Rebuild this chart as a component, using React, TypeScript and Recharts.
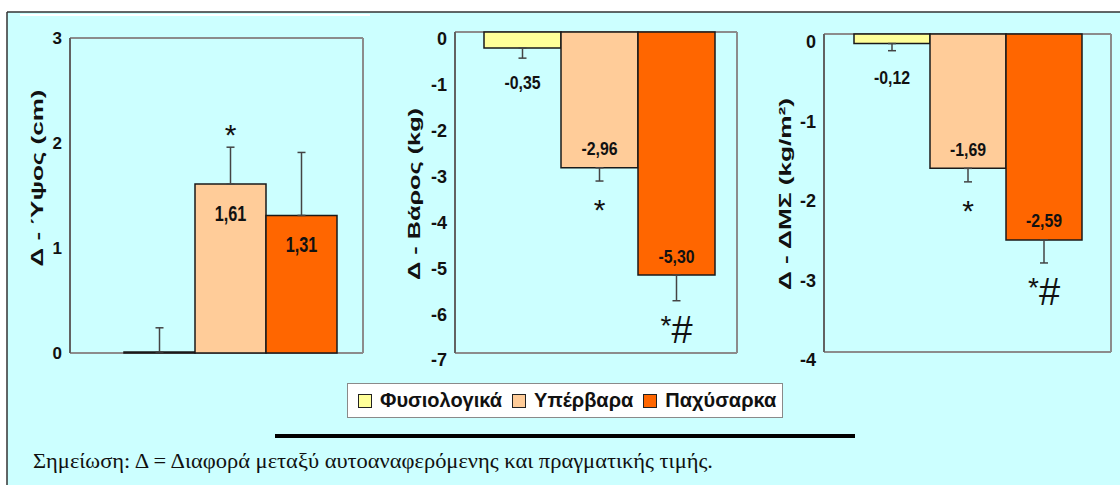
import React from 'react';
import { BarChart, Bar, XAxis, YAxis, CartesianGrid, ErrorBar, LabelList } from 'recharts';

const groups = ['Φυσιολογικά', 'Υπέρβαρα', 'Παχύσαρκα'];
const groupColors = ['#FFFF99', '#FFCC99', '#FF6600'];

const heightValues = [0.01, 1.61, 1.31];
const heightErrors = [0.23, 0.35, 0.6];
const heightMarks = ['', '*', ''];
const heightTicks = [0, 1, 2, 3];

const weightValues = [-0.35, -2.96, -5.3];
const weightErrors = [0.22, 0.29, 0.56];
const weightMarks = ['', '*', '*#'];
const weightTicks = [0, -1, -2, -3, -4, -5, -6, -7];

const bmiValues = [-0.12, -1.69, -2.59];
const bmiErrors = [0.09, 0.17, 0.29];
const bmiMarks = ['', '*', '*#'];
const bmiTicks = [0, -1, -2, -3, -4];

const note = 'Σημείωση: Δ = Διαφορά μεταξύ αυτοαναφερόμενης και πραγματικής τιμής.';

const sans = "'Liberation Sans', Arial, sans-serif";
const serif = "'Liberation Serif', 'Times New Roman', serif";

const fmt = (v: number) => (Math.abs(v) < 0.05 ? '' : v.toFixed(2).replace('.', ','));

const AxisTitle = (props: any) => {
  const { viewBox, title, shift, drop, span } = props;
  if (!viewBox) return null;
  const cx = viewBox.x + shift;
  const cy = viewBox.y + viewBox.height / 2 + drop;
  return (
    <text
      x={cx}
      y={cy}
      transform={`rotate(-90 ${cx} ${cy})`}
      textAnchor="middle"
      dominantBaseline="central"
      fontFamily={sans}
      fontSize={16}
      fontWeight={700}
      fill="#111"
      textLength={span}
      lengthAdjust="spacingAndGlyphs"
    >
      {title}
    </text>
  );
};

const barLabel = (values: number[], errors: number[], marks: string[], s: number, inside: number, font: any) => (props: any) => {
  const vb = props.viewBox ?? props;
  const { x, y, width, height } = vb;
  const v = values[s];
  const top = Math.min(y, y + height);
  const bottom = Math.max(y, y + height);
  const up = v >= 0;
  const end = up ? top : bottom;
  const dir = up ? -1 : 1;
  const ppu = bottom - top > 0 ? (bottom - top) / Math.abs(v) : 0;
  const errEnd = end + dir * errors[s] * ppu;
  const cx = x + width / 2;
  const text = fmt(v);
  const center = s === 0 ? end + dir * 34 : end - dir * inside;
  const base = center + 0.36 * font.size;
  const mark = marks[s];
  return (
    <g>
      {text && (
        <text
          transform={`translate(${cx} ${base}) scale(${font.squeeze} 1)`}
          textAnchor="middle"
          fontFamily={sans}
          fontSize={font.size}
          fontWeight={font.weight}
          fill="#111"
        >
          {text}
        </text>
      )}
      {mark === '*' && (
        <text x={cx} y={up ? errEnd - 2 : errEnd + 39} textAnchor="middle" fontFamily={sans} fontSize={30} fill="#111">
          *
        </text>
      )}
      {mark === '*#' && (
        <text x={cx} y={errEnd + 42} textAnchor="middle" fontFamily={sans} fill="#111">
          <tspan fontSize={28} dy={-8}>*</tspan>
          <tspan fontSize={38} dy={8}>#</tspan>
        </text>
      )}
    </g>
  );
};

type PanelProps = {
  values: number[];
  errors: number[];
  marks: string[];
  ticks: number[];
  left: number;
  width: number;
  margin: { top: number; right: number; bottom: number; left: number };
  padLeft: number;
  gap: number;
  title: string;
  titleShift: number;
  titleDrop: number;
  titleSpan: number;
  tickDy: number;
  tickSize: number;
  inside: number;
  font: { size: number; squeeze: number; weight: number };
};

const Panel = (p: PanelProps) => {
  const row: any = { name: 'g' };
  p.values.forEach((v, i) => {
    row[`v${i}`] = v;
    row[`e${i}`] = v >= 0 ? [0, p.errors[i]] : [p.errors[i], 0];
  });
  const lo = Math.min(...p.ticks);
  const hi = Math.max(...p.ticks);
  return (
    <div style={{ position: 'absolute', left: p.left, top: 0 }}>
      <BarChart width={p.width} height={380} data={[row]} margin={p.margin} barCategoryGap={p.gap} barGap={0}>
        <CartesianGrid
          stroke="#8c8c8c"
          strokeWidth={2}
          horizontalCoordinatesGenerator={({ offset }: any) => [offset.top, offset.top + offset.height]}
          verticalCoordinatesGenerator={({ offset }: any) => [offset.left, offset.left + offset.width]}
        />
        <XAxis dataKey="name" type="category" hide padding={{ left: p.padLeft, right: 0 }} />
        <YAxis
          type="number"
          domain={[lo, hi]}
          ticks={p.ticks}
          interval={0}
          width={40}
          tickLine={false}
          axisLine={{ stroke: '#555', strokeWidth: 1.5 }}
          tick={{ fill: '#111', fontSize: p.tickSize, fontWeight: 700, fontFamily: sans, dy: p.tickDy }}
          label={<AxisTitle title={p.title} shift={p.titleShift} drop={p.titleDrop} span={p.titleSpan} />}
        />
        {groups.map((g, i) => (
          <Bar key={g} dataKey={`v${i}`} name={g} fill={groupColors[i]} stroke="#1a1a1a" strokeWidth={1.5} isAnimationActive={false}>
            <ErrorBar dataKey={`e${i}`} direction="y" width={4} stroke="#444" strokeWidth={1.5} isAnimationActive={false} />
            <LabelList dataKey={`v${i}`} content={barLabel(p.values, p.errors, p.marks, i, p.inside, p.font)} />
          </Bar>
        ))}
      </BarChart>
    </div>
  );
};

export default function App() {
  return (
    <div style={{ position: 'absolute', left: 0, top: 0, width: 1120, height: 485, background: '#fff', overflow: 'hidden' }}>
      <svg width={1120} height={485} style={{ position: 'absolute', left: 0, top: 0 }}>
        <rect x={7} y={12} width={1113} height={473} fill="#CCFFFF" />
        <line x1={7} y1={12} x2={1120} y2={12} stroke="#333" strokeWidth={1.5} />
        <line x1={7} y1={12} x2={7} y2={485} stroke="#333" strokeWidth={1.5} />
        <rect x={20} y={14} width={350} height={2} fill="#fff" />
        <rect x={275} y={434} width={580} height={4} fill="#000" />
        <text x={33} y={468} fontFamily={serif} fontSize={20} fill="#111" textLength={680} lengthAdjust="spacingAndGlyphs">
          {note}
        </text>
      </svg>
      <Panel
        values={heightValues}
        errors={heightErrors}
        marks={heightMarks}
        ticks={heightTicks}
        left={0}
        width={380}
        margin={{ top: 38, right: 17, bottom: 27, left: 30 }}
        padLeft={29}
        gap={25}
        title="Δ - Ύψος (cm)"
        titleShift={7.5}
        titleDrop={-17.5}
        titleSpan={177}
        tickDy={0}
        tickSize={17}
        inside={29}
        font={{ size: 22, squeeze: 0.74, weight: 700 }}
      />
      <Panel
        values={weightValues}
        errors={weightErrors}
        marks={weightMarks}
        ticks={weightTicks}
        left={380}
        width={380}
        margin={{ top: 32, right: 23, bottom: 27, left: 35 }}
        padLeft={8}
        gap={21}
        title="Δ - Βάρος (kg)"
        titleShift={-0.5}
        titleDrop={1.5}
        titleSpan={172}
        tickDy={7}
        tickSize={18}
        inside={19}
        font={{ size: 18, squeeze: 0.88, weight: 700 }}
      />
      <Panel
        values={bmiValues}
        errors={bmiErrors}
        marks={bmiMarks}
        ticks={bmiTicks}
        left={760}
        width={360}
        margin={{ top: 34, right: 9, bottom: 28, left: 24 }}
        padLeft={0}
        gap={30}
        title="Δ - ΔΜΣ (kg/m²)"
        titleShift={1.5}
        titleDrop={1}
        titleSpan={192}
        tickDy={8}
        tickSize={18}
        inside={19}
        font={{ size: 18, squeeze: 0.88, weight: 700 }}
      />
      <div
        style={{
          position: 'absolute',
          left: 347,
          top: 383,
          width: 436,
          height: 35,
          boxSizing: 'border-box',
          background: '#fff',
          border: '1px solid #8a8a8a',
          display: 'flex',
          alignItems: 'center',
          paddingLeft: 10,
          fontFamily: sans,
          fontWeight: 700,
          fontSize: 20,
          color: '#111',
        }}
      >
        {groups.map((g, i) => (
          <div key={g} style={{ display: 'flex', alignItems: 'center', marginRight: 10 }}>
            <span style={{ width: 12, height: 12, background: groupColors[i], border: '1.5px solid #222', marginRight: 8 }} />
            <span>{g}</span>
          </div>
        ))}
      </div>
    </div>
  );
}
